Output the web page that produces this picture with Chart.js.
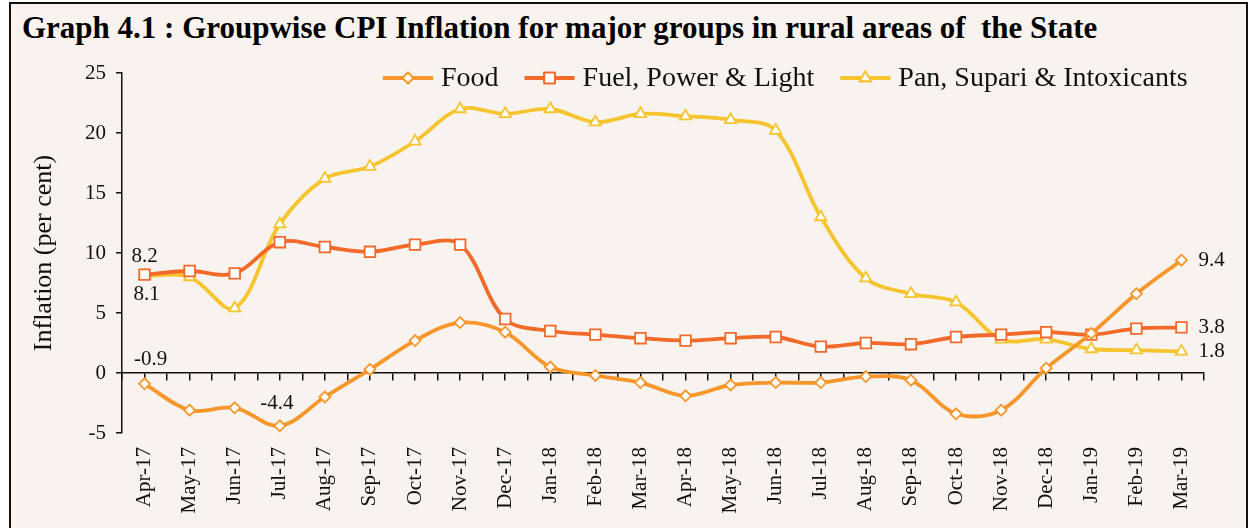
<!DOCTYPE html>
<html>
<head>
<meta charset="utf-8">
<script src="https://cdn.jsdelivr.net/npm/chart.js@4.4.1/dist/chart.umd.min.js"></script>
<style>
  html, body { margin: 0; padding: 0; background: #fff; }
  #frame {
    position: absolute; left: 9px; top: 2px; width: 1235px; height: 540px;
    border: 2px solid #111; border-bottom: none; background: #f8f3ee;
  }
  #title {
    position: absolute; left: 22px; top: 10px; margin: 0;
    font: bold 31px "Liberation Serif", "Times New Roman", serif; color: #000;
    white-space: pre; line-height: 36px;
  }
  #wrap { position: absolute; left: 0; top: 0; width: 1251px; height: 528px; }
</style>
</head>
<body>
<div id="frame"></div>
<div id="title">Graph 4.1 : Groupwise CPI Inflation for major groups in rural areas of  the State</div>
<div id="wrap"><canvas id="myChart"></canvas></div>
<script>
// months on the x axis
var months = ['Apr-17','May-17','Jun-17','Jul-17','Aug-17','Sep-17','Oct-17','Nov-17','Dec-17',
  'Jan-18','Feb-18','Mar-18','Apr-18','May-18','Jun-18','Jul-18','Aug-18','Sep-18','Oct-18',
  'Nov-18','Dec-18','Jan-19','Feb-19','Mar-19'];

var food = [-0.9,-3.1,-2.9,-4.4,-2.0,0.3,2.7,4.2,3.4,0.5,-0.2,-0.8,-1.9,-1.0,-0.8,-0.8,-0.3,-0.6,-3.4,-3.1,0.4,3.3,6.6,9.4];
var fuel = [8.2,8.5,8.3,10.9,10.5,10.1,10.7,10.7,4.5,3.5,3.2,2.9,2.7,2.9,3.0,2.2,2.5,2.4,3.0,3.2,3.4,3.2,3.7,3.8];
var pan  = [8.1,8.0,5.4,12.4,16.2,17.2,19.3,22.0,21.6,22.0,20.9,21.6,21.4,21.1,20.2,13.0,7.9,6.6,5.9,2.8,2.8,2.0,1.9,1.8];

var yTicks = [-5,0,5,10,15,20,25];

var serif = '"Liberation Serif", "Times New Roman", serif';
var orange = '#f7962b', red = '#f26a2a', yellow = '#f6c42f';

function pts(arr) {
  return arr.map(function (v, i) { return { x: i, y: v }; });
}

// ticks at every month and halfway between
function halfTicks(scale) {
  var t = [];
  for (var i = -1; i < months.length * 2; i++) t.push({ value: i / 2 });
  scale.ticks = t;
}

// value labels: [dataset, index, text, dx, dy, align]
var valueLabels = [
  [1, 0, '8.2', 0, -18, 'center'],
  [2, 0, '8.1', 2, 19, 'center'],
  [0, 0, '-0.9', 6, -24, 'center'],
  [0, 3, '-4.4', -3, -22, 'center'],
  [0, 23, '9.4', 17, 0, 'left'],
  [1, 23, '3.8', 17, 0, 'left'],
  [2, 23, '1.8', 17, 0, 'left']
];

var extras = {
  id: 'extras',
  afterDatasetsDraw: function (chart) {
    var ctx = chart.ctx;
    ctx.save();
    ctx.fillStyle = '#111';
    ctx.font = '21px ' + serif;
    ctx.textBaseline = 'middle';
    valueLabels.forEach(function (l) {
      var el = chart.getDatasetMeta(l[0]).data[l[1]];
      ctx.textAlign = l[5];
      ctx.fillText(l[2], el.x + l[3], el.y + l[4]);
    });

    // legend: line sample with marker, then text
    ctx.font = '28px ' + serif;
    ctx.textAlign = 'left';
    var x = 383, y = 78;
    chart.data.datasets.forEach(function (ds) {
      ctx.strokeStyle = ds.borderColor;
      ctx.lineWidth = ds.borderWidth;
      ctx.beginPath();
      ctx.moveTo(x, y);
      ctx.lineTo(x + 50, y);
      ctx.stroke();
      ctx.fillStyle = '#fff';
      ctx.lineWidth = ds.pointBorderWidth;
      Chart.helpers.drawPoint(ctx, { pointStyle: ds.pointStyle, radius: ds.pointRadius, borderWidth: ds.pointBorderWidth }, x + 25, y);
      ctx.fill();
      ctx.stroke();
      ctx.fillStyle = '#111';
      ctx.fillText(ds.label, x + 58, y + 1);
      x += 58 + ctx.measureText(ds.label).width + 26;
    });
    ctx.restore();
  }
};

function series(label, arr, color, style, r) {
  return {
    label: label,
    data: pts(arr),
    xAxisID: 'x',
    borderColor: color,
    borderWidth: 3.8,
    tension: 0.35,
    pointStyle: style,
    pointRadius: r,
    pointBorderWidth: 1.8,
    pointBackgroundColor: '#fff',
    pointBorderColor: color
  };
}

new Chart('myChart', {
  type: 'line',
  data: {
    datasets: [
      series('Food', food, orange, 'rectRot', 5.5),
      series('Fuel, Power & Light', fuel, red, 'rect', 7.5),
      series('Pan, Supari & Intoxicants', pan, yellow, 'triangle', 6.5)
    ]
  },
  options: {
    responsive: true,
    maintainAspectRatio: false,
    animation: false,
    layout: { padding: { top: 73, right: 47, left: 0, bottom: 0 } },
    plugins: { legend: { display: false }, tooltip: { enabled: false } },
    scales: {
      x: {
        type: 'linear', min: -0.5, max: 23.5,
        afterBuildTicks: halfTicks,
        afterFit: function (s) { s.height = 95; },
        grid: { display: false },
        border: { display: false },
        ticks: {
          autoSkip: false, minRotation: 90, maxRotation: 90, padding: 6,
          color: '#111', font: { family: serif, size: 21 },
          callback: function (v) { return Number.isInteger(v) ? months[v] : ''; }
        }
      },
      x0: {
        type: 'linear', axis: 'x', position: { y: 0 }, min: -0.5, max: 23.5,
        afterBuildTicks: halfTicks,
        grid: { drawOnChartArea: false, drawTicks: true, tickLength: 7, color: '#111', lineWidth: 1.5 },
        border: { display: true, color: '#111', width: 1.5 },
        ticks: { display: false }
      },
      y: {
        min: -5, max: 25,
        afterBuildTicks: function (s) { s.ticks = yTicks.map(function (v) { return { value: v }; }); },
        afterFit: function (s) { s.width = 122; },
        grid: { drawOnChartArea: false, drawTicks: true, tickLength: 6, color: '#111', lineWidth: 1.5 },
        border: { display: true, color: '#111', width: 1.5 },
        ticks: { color: '#111', padding: 10, font: { family: serif, size: 21 } },
        title: {
          display: true, text: 'Inflation (per cent)', color: '#111',
          font: { family: serif, size: 26 }, padding: { top: 29, bottom: 0 }
        }
      }
    }
  },
  plugins: [extras]
});
</script>
</body>
</html>
